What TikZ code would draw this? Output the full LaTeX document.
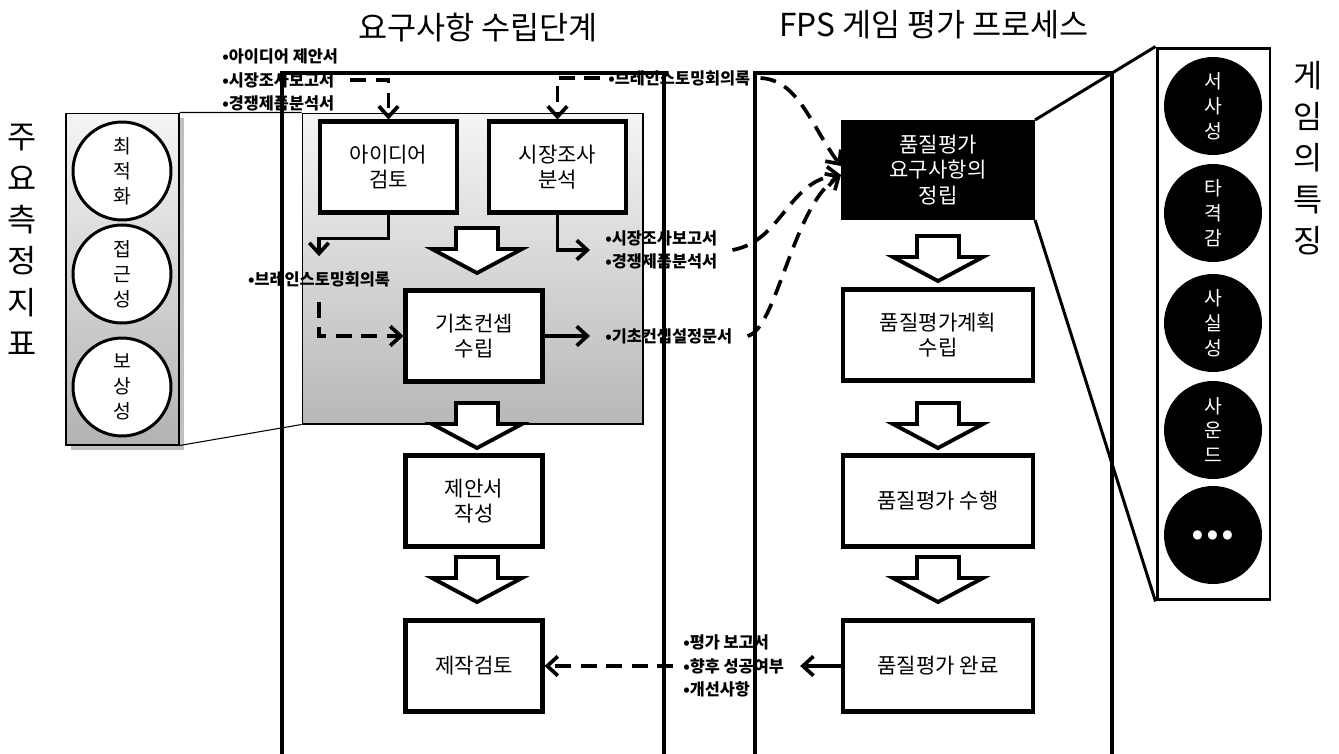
\documentclass[tikz,border=0pt]{standalone}
\usepackage{fontspec}
\setmainfont{Noto Sans CJK KR}
\usetikzlibrary{arrows.meta,shadows}

\newcommand{\blockdown}[2]{%
  \draw[bigarr] (#1-21,#2) -- (#1+21,#2) -- (#1+21,#2+21) -- (#1+45,#2+21)
    -- (#1,#2+45) -- (#1-45,#2+21) -- (#1-21,#2+21) -- cycle;}

\begin{document}
\begin{tikzpicture}[x=0.02cm,y=-0.02cm,
    box/.style={draw,fill=white,line width=2.3pt,align=center,
      minimum width=2.74cm,minimum height=1.82cm,
      font=\fontsize{12}{14.5}\selectfont},
    qbox/.style={box,minimum width=3.8cm},
    doc/.style={inner sep=0pt,align=left,font=\bfseries\fontsize{9.3}{13.3}\selectfont},
    kcirc/.style={circle,draw,fill=white,line width=1.7pt,minimum size=1.96cm,
      inner sep=0pt,align=center,font=\fontsize{11}{14.2}\selectfont},
    gcirc/.style={kcirc,draw=none,fill=black,text=white},
    side/.style={align=center,font=\fontsize{18}{23.5}\selectfont},
    con/.style={line width=2.1pt,-{Straight Barb[length=6pt,width=11pt]}},
    dcon/.style={con,dash pattern=on 9pt off 5.5pt},
    bigarr/.style={draw,fill=white,line width=2.2pt},
    frame/.style={line width=2.3pt}]
  \useasboundingbox (0,0) rectangle (1339,754);

  \node (T1) at (478,28) {\fontsize{18}{18}\selectfont 요구사항 수립단계};
  \node (T2) at (934,25) {\fontsize{18}{18}\selectfont FPS 게임 평가 프로세스};

  \node[draw,line width=0.6pt,top color=black!4,bottom color=black!30,drop shadow,
    minimum width=2.26cm,minimum height=6.64cm,inner sep=0pt] (Kp) at (122.5,279) {};
  \node[draw,line width=0.6pt,top color=black!4,bottom color=black!28,
    minimum width=6.82cm,minimum height=6.22cm,inner sep=0pt] (Gr) at (472.5,268.5) {};
  \node[draw,fill=white,line width=1.7pt,minimum width=2.26cm,
    minimum height=11.04cm,inner sep=0pt] (Gp) at (1213.5,324) {};
  \draw[line width=0.6pt] (Kp.north east) -- (Gr.north west);
  \draw[line width=0.6pt] (Kp.south east) -- (Gr.south west);

  \draw[frame] (282,754) -- (282,73) -- (664,73) -- (664,754);
  \draw[frame] (755,754) -- (755,73) -- (1112,73) -- (1112,754);

  \node[box] (Id) at (388.5,167) {아이디어\\검토};
  \node[box] (Ma) at (557.5,167) {시장조사\\분석};
  \node[box] (Co) at (474,336) {기초컨셉\\수립};
  \node[box] (Pr) at (474,501) {제안서\\작성};
  \node[box] (Rv) at (474,666) {제작검토};
  \node[qbox,fill=black,text=white,minimum height=1.92cm] (Qr) at (938,170) {품질평가\\요구사항의\\정립};
  \node[qbox] (Qp) at (938,335) {품질평가계획\\수립};
  \node[qbox] (Qe) at (938,501) {품질평가 수행};
  \node[qbox] (Qc) at (938,666) {품질평가 완료};

  \blockdown{477}{228}
  \blockdown{477}{403}
  \blockdown{477}{557}
  \blockdown{938}{236}
  \blockdown{938}{403}
  \blockdown{938}{557}

  \draw[line width=1.7pt] (Qr.north east) -- (Gp.north west);
  \draw[line width=1.7pt] (Qr.south east) -- (Gp.south west);

  \node[kcirc] (K1) at (122,171) {최\\적\\화};
  \node[kcirc] (K2) at (122,274) {접\\근\\성};
  \node[kcirc] (K3) at (122,387) {보\\상\\성};
  \node[gcirc] (G1) at (1213,106) {서\\사\\성};
  \node[gcirc] (G2) at (1213,213) {타\\격\\감};
  \node[gcirc] (G3) at (1213,323) {사\\실\\성};
  \node[gcirc] (G4) at (1213,430) {사\\운\\드};
  \node[gcirc] (G5) at (1213,535) {\fontsize{24}{24}\selectfont\bfseries ...};

  \node[side] (V1) at (22,240) {주\\요\\측\\정\\지\\표};
  \node[side] (V2) at (1308,158) {게\\임\\의\\특\\징};

  \node[doc,anchor=west] (L1) at (222,80) {•아이디어 제안서\\•시장조사보고서\\•경쟁제품분석서};
  \node[doc,anchor=west] (L2) at (608,78) {•브레인스토밍회의록};
  \node[doc,minimum height=0.9cm] (L3) at (319,279) {•브레인스토밍회의록};
  \node[doc,anchor=west] (L4) at (605,250) {•시장조사보고서\\•경쟁제품분석서};
  \node[doc,anchor=west] (L5) at (605,336) {•기초컨셉설정문서};
  \node[doc,anchor=west] (L6) at (683,666) {•평가 보고서\\•향후 성공여부\\•개선사항};

  \draw[dcon] ([xshift=0.24cm]L1.east) -| (Id.north);
  \draw[dcon] ([xshift=-0.16cm]L2.west) -| (Ma.north);
  \draw[dcon] ([xshift=0.2cm]L2.east) .. controls +(38,2) and +(-30,-40) .. ([yshift=0.08cm]Qr.west);
  \draw[con] (Id.south) -- ++(0,24) -| (L3.north);
  \draw[dcon] (L3.south) |- (Co.west);
  \draw[con] (Ma.south) |- ([xshift=-0.3cm]L4.west);
  \draw[dcon] ([xshift=0.3cm]L4.east) .. controls +(50,-9) and +(-53,5) .. ([yshift=-0.1cm]Qr.west);
  \draw[con] (Co.east) -- ([xshift=-0.3cm]L5.west);
  \draw[dcon] ([xshift=0.3cm]L5.east) .. controls +(29,-6) and +(-48,30) .. ([yshift=-0.1cm]Qr.west);
  \draw[con] (Qc.west) -- ([xshift=0.32cm]L6.east);
  \draw[dcon] ([xshift=-0.2cm]L6.west) -- (Rv.east);
\end{tikzpicture}
\end{document}
